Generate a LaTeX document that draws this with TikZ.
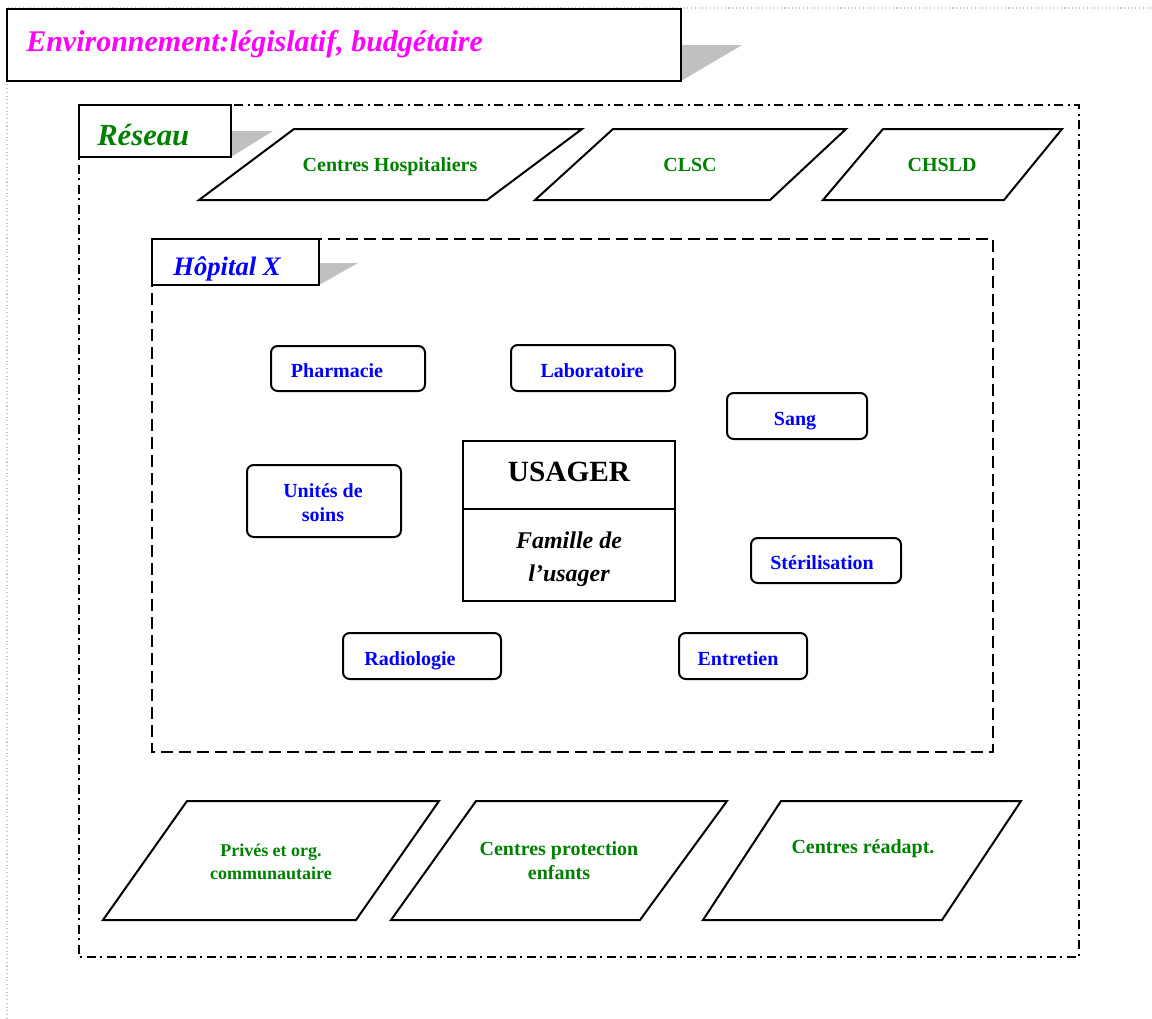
\documentclass[tikz,border=0pt]{standalone}
\usepackage{fontspec}
\setmainfont{Liberation Serif}
\usetikzlibrary{fit}
\definecolor{netgreen}{RGB}{0,128,0}
\definecolor{hospblue}{RGB}{0,0,255}
\definecolor{envmagenta}{RGB}{255,0,255}
\definecolor{tabshadow}{RGB}{192,192,192}
\tikzset{
  rbox/.style={draw, line width=1.5pt, rounded corners=5pt, inner sep=0pt},
  sqbox/.style={draw, line width=1.4pt, inner sep=0pt},
  tabbox/.style={draw, line width=1.5pt, fill=white, inner sep=0pt},
  para/.style={draw, line width=1.5pt, line join=miter},
  shadowtri/.style={fill=tabshadow, draw=none},
  bluetxt/.style={anchor=base, text=hospblue, font=\fontsize{15pt}{18pt}\selectfont\bfseries, align=center, inner sep=0pt},
  greentxt/.style={anchor=base, text=netgreen, font=\fontsize{15pt}{18pt}\selectfont\bfseries, align=center, inner sep=0pt},
  reseauframe/.style={line width=1.5pt, dash pattern=on 6.5pt off 3.5pt on 1.5pt off 3.5pt},
  hopframe/.style={line width=1.3pt, dash pattern=on 9pt off 4.5pt},
}
\begin{document}
\begin{tikzpicture}[x=0.75pt,y=-0.75pt]
\useasboundingbox (0,0) rectangle (1152,1018);

% light dotted page frame
\draw[gray!45, line width=0.8pt, dotted] (7,1030) -- (7,8) -- (1165,8);

% environment title
\fill[shadowtri] (681,45) -- (742,45) -- (681,81) -- cycle;
\node[tabbox, line width=1.8pt, fit={(7,9) (681,81)}] (env) {};
\node[anchor=base west, inner sep=0pt, text=envmagenta,
      font=\fontsize{22.5pt}{26pt}\selectfont\bfseries\itshape] (envtxt) at (26,51)
      {Environnement:législatif, budgétaire};

% network frame and tab
\draw[reseauframe] (79,105) rectangle (1079,957);
\fill[shadowtri] (231,131) -- (273,131) -- (231,157) -- cycle;
\node[tabbox, fit={(79,105) (231,157)}] (reseau) {};
\node[anchor=base west, inner sep=0pt, text=netgreen,
      font=\fontsize{23pt}{26pt}\selectfont\bfseries\itshape] (reseautxt) at (97,145) {Réseau};

% network partners, top row
\draw[para] (199,200) -- (294,129) -- (582,129) -- (487,200) -- cycle;
\node[greentxt] (ch) at (390,171.5) {Centres Hospitaliers};
\draw[para] (535,200) -- (613,129) -- (846,129) -- (770,200) -- cycle;
\node[greentxt] (clsc) at (690,171.5) {CLSC};
\draw[para] (823,200) -- (883,129) -- (1062,129) -- (1004,200) -- cycle;
\node[greentxt] (chsld) at (942,171.5) {CHSLD};

% hospital frame and tab
\draw[hopframe] (152,239) rectangle (993,752);
\fill[shadowtri] (319,263) -- (358,263) -- (319,285) -- cycle;
\node[tabbox, fit={(152,239) (319,285)}] (hop) {};
\node[anchor=base west, inner sep=0pt, text=hospblue,
      font=\fontsize{20pt}{24pt}\selectfont\bfseries\itshape] (hoptxt) at (173,275) {Hôpital X};

% hospital services (multi-line labels sit on the baseline of their last line)
\node[rbox, fit={(271,346) (425,391)}] (pharm) {};
\node[bluetxt] (pharmtxt) at (337,377.5) {Pharmacie};
\node[rbox, fit={(511,345) (675,391)}] (labo) {};
\node[bluetxt] (labotxt) at (592,377.5) {Laboratoire};
\node[rbox, fit={(727,393) (867,439)}] (sang) {};
\node[bluetxt] (sangtxt) at (795,425) {Sang};
\node[rbox, fit={(247,465) (401,537)}] (unites) {};
\node[bluetxt] (unitestxt) at (323,521.5) {Unités de\\soins};
\node[rbox, fit={(751,538) (901,583)}] (steril) {};
\node[bluetxt] (steriltxt) at (822,569) {Stérilisation};
\node[rbox, fit={(343,633) (501,679)}] (radio) {};
\node[bluetxt] (radiotxt) at (410,665) {Radiologie};
\node[rbox, fit={(679,633) (807,679)}] (entr) {};
\node[bluetxt] (entrtxt) at (738,665) {Entretien};

% the user and family
\node[sqbox, fit={(463,441) (675,509)}] (usager) {};
\node[anchor=base, inner sep=0pt, font=\fontsize{22pt}{26pt}\selectfont\bfseries] (usagertxt) at (569,481) {USAGER};
\node[sqbox, fit={(463,509) (675,601)}] (famille) {};
\node[anchor=base, inner sep=0pt, align=center, font=\fontsize{18pt}{24.75pt}\selectfont\bfseries\itshape] (familletxt) at (569,581) {Famille de\\l’usager};

% network partners, bottom row
\draw[para] (103,920) -- (187,801) -- (439,801) -- (356,920) -- cycle;
\node[greentxt, font=\fontsize{13.5pt}{17pt}\selectfont\bfseries] (prives) at (271,879) {Privés et org.\\communautaire};
\draw[para] (391,920) -- (476,801) -- (727,801) -- (640,920) -- cycle;
\node[greentxt] (protec) at (559,879.5) {Centres protection\\enfants};
\draw[para] (703,920) -- (781,801) -- (1021,801) -- (942,920) -- cycle;
\node[greentxt] (readapt) at (863,853.5) {Centres réadapt.};

\end{tikzpicture}
\end{document}
